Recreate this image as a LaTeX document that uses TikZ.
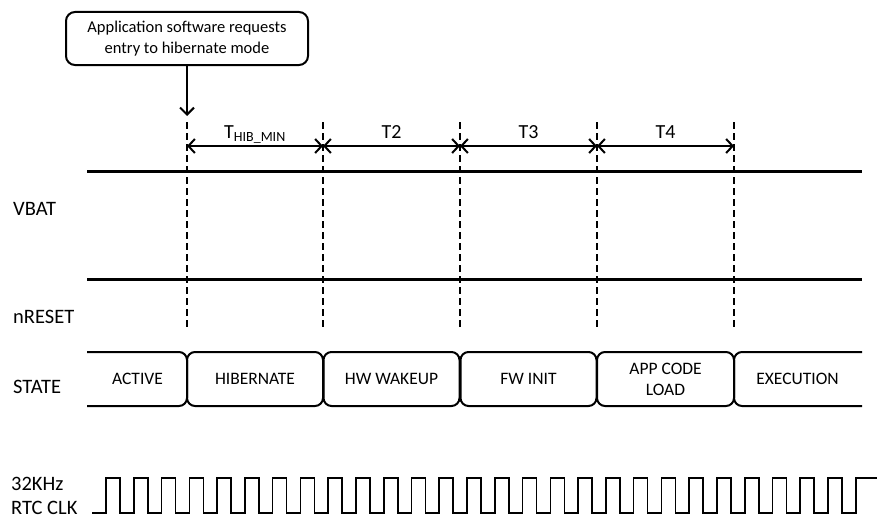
\documentclass[tikz,border=0pt]{standalone}
\usepackage{fontspec}
\setmainfont{Carlito}
\usetikzlibrary{arrows.meta, calc, positioning}

\begin{document}
\begin{tikzpicture}[
        x=1pt, y=-1pt,
        every node/.style={font=\fontsize{17.5}{21}\selectfont, inner sep=0pt},
        signal/.style={line width=3pt},
        marker/.style={line width=2.2pt, dash pattern=on 7pt off 4pt},
        dimarrow/.style={line width=2pt, {Straight Barb[length=6.5pt,width=14pt,line width=2pt]}-{Straight Barb[length=6.5pt,width=14pt,line width=2pt]}},
        dimlabel/.style={midway, anchor=base, yshift=8pt, font=\fontsize{20}{24}\selectfont},
        statebox/.style={draw, line width=2pt, rounded corners=8pt, minimum width=136pt, minimum height=54pt, align=center},
        label/.style={anchor=base west, font=\fontsize{20.5}{25}\selectfont},
      ]
      \useasboundingbox (0,0) rectangle (877,519);

      % Marken der Zustandswechsel
      \foreach \x [count=\i from 0] in {187,323,460,597,734} {
        \coordinate (top\i) at (\x,122);
        \coordinate (bot\i) at (\x,330);
        \coordinate (dim\i) at (\x,146);
        \draw[marker] (top\i) -- (bot\i);
      }

      % Hinweis
      \node[draw, line width=2pt, rounded corners=9pt, minimum width=242pt, minimum height=53pt,
            align=center, font=\fontsize{16.5}{21}\selectfont] (request) at (187,38.5)
        {Application software requests\\entry to hibernate mode};
      \draw[line width=2pt, -{Straight Barb[length=7pt,width=14pt,line width=2pt]}, shorten >=6pt]
        (request) -- (top0);

      % Zeitabschnitte
      \draw[dimarrow] (dim0) -- (dim1) node[dimlabel] (thib) {T\textsubscript{HIB\_MIN}};
      \draw[dimarrow] (dim1) -- (dim2) node[dimlabel] (ttwo) {T2};
      \draw[dimarrow] (dim2) -- (dim3) node[dimlabel] (tthree) {T3};
      \draw[dimarrow] (dim3) -- (dim4) node[dimlabel] (tfour) {T4};

      % Signale
      \node[label] (vbat) at (13,215) {VBAT};
      \node[label] (nreset) at (13,323) {nRESET};
      \node[label] (state) at (13,393) {STATE};
      \node[label] (clkfreq) at (11,490) {32KHz};
      \node[label] (clkname) at (11,514) {RTC CLK};
      \draw[signal] (87,171) -- (862,171);
      \draw[signal] (87,279) -- (862,279);

      % Zustaende
      \draw[line width=2pt, rounded corners=8pt] (87,352) -- (187,352) -- (187,406) -- (87,406);
      \node (active) at (137.5,379) {ACTIVE};
      \node[statebox] (hibernate) at (255,379) {HIBERNATE};
      \node[statebox] (hwwake) at (391.5,379) {HW WAKEUP};
      \node[statebox] (fwinit) at (528.5,379) {FW INIT};
      \node[statebox, minimum width=137pt] (appload) at (665.5,379) {APP CODE\\LOAD};
      \draw[line width=2pt, rounded corners=8pt] (862,352) -- (734,352) -- (734,406) -- (862,406);
      \node (execution) at (797.5,379) {EXECUTION};

      % Takt
      \draw[line width=1.6pt, line join=miter]
        (92,513) \foreach \k in {0,...,26} {
          -- ({106+27.77*\k},513) -- ++(0,-35) -- ++(14,0) -- ++(0,35)
        } -- (855.8,513) -- ++(0,-35) -- (877,478);
    \end{tikzpicture}
\end{document}
